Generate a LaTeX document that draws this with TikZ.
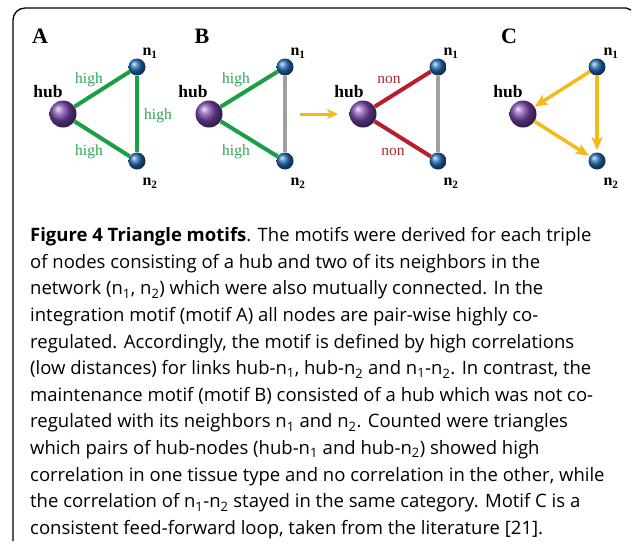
\documentclass[tikz,border=0pt]{standalone}
\usepackage{fontspec}
\setmainfont{Liberation Serif}
\newfontfamily\capfont{Open Sans}
\usetikzlibrary{arrows.meta}
\definecolor{hubcol}{RGB}{120,70,170}
\definecolor{ncol}{RGB}{30,105,175}
\definecolor{edgegreen}{RGB}{25,160,70}
\definecolor{txtgreen}{RGB}{45,165,85}
\definecolor{edgered}{RGB}{185,30,45}
\definecolor{txtred}{RGB}{175,40,50}
\definecolor{edgegray}{RGB}{160,160,160}
\definecolor{arrowor}{RGB}{245,185,25}
\tikzset{
  hubnode/.style={circle, inner sep=0pt, minimum size=27pt, ball color=hubcol},
  nnode/.style={circle, inner sep=0pt, minimum size=17pt, ball color=ncol},
  greenedge/.style={line width=4pt, draw=edgegreen},
  rededge/.style={line width=4pt, draw=edgered},
  grayedge/.style={line width=3.5pt, draw=edgegray},
  orarrow/.style={line width=3.5pt, draw=arrowor, -{Stealth[length=13pt,width=11pt,inset=3pt]}},
  elabel/.style={inner sep=0pt, font=\fontsize{15.5}{15.5}\selectfont},
  hublabel/.style={inner sep=0pt, font=\bfseries\fontsize{17.5}{17.5}\selectfont},
  nlabel/.style={inner sep=0pt, font=\bfseries\fontsize{16}{16}\selectfont},
  panel/.style={inner sep=0pt, font=\bfseries\fontsize{22}{22}\selectfont},
  capline/.style={anchor=base west, inner sep=0pt, font=\capfont\fontsize{18.5}{18.5}\selectfont},
}
\begin{document}
\begin{tikzpicture}[x=1pt, y=-1pt]
\useasboundingbox (0,0) rectangle (632,544);
\fill[white] (0,0) rectangle (632,544);
% frame
\draw[line width=1.3pt] (13,541) -- (13,20) arc[start angle=180, end angle=270, radius=12] -- (626,8) -- (631,10);

% ---------- Panel A ----------
\node[panel] (labA) at (40,36) {A};
\node[hubnode] (hA) at (63,114) {};
\node[nnode] (aA) at (137,67) {};
\node[nnode] (bA) at (137,161) {};
\draw[greenedge] (hA) -- (aA);
\draw[greenedge] (hA) -- (bA);
\draw[greenedge] (aA) -- (bA);
\node[hublabel] (thA) at (48,92) {hub};
\node[nlabel] (taA) at (150,53) {n\textsubscript{1}};
\node[nlabel] (tbA) at (150,183) {n\textsubscript{2}};
\node[elabel, text=txtgreen] (e1A) at (89,80) {high};
\node[elabel, text=txtgreen] (e2A) at (158,116) {high};
\node[elabel, text=txtgreen] (e3A) at (89,152) {high};

% ---------- Panel B ----------
\node[panel] (labB) at (202,36) {B};
\node[hubnode] (hB) at (209,114) {};
\node[nnode] (aB) at (285,67) {};
\node[nnode] (bB) at (285,161) {};
\draw[greenedge] (hB) -- (aB);
\draw[greenedge] (hB) -- (bB);
\draw[grayedge] (aB) -- (bB);
\node[hublabel] (thB) at (193,92) {hub};
\node[nlabel] (taB) at (298,53) {n\textsubscript{1}};
\node[nlabel] (tbB) at (298,183) {n\textsubscript{2}};
\node[elabel, text=txtgreen] (e1B) at (236,80) {high};
\node[elabel, text=txtgreen] (e3B) at (236,152) {high};

\coordinate (arS) at (300,114);
\coordinate (arE) at (338,114);
\draw[line width=3pt, draw=arrowor, -{Stealth[length=11pt,width=10pt,inset=3pt]}] (arS) -- (arE);

\node[hubnode] (hB2) at (363,114) {};
\node[nnode] (aB2) at (438,67) {};
\node[nnode] (bB2) at (438,161) {};
\draw[rededge] (hB2) -- (aB2);
\draw[rededge] (hB2) -- (bB2);
\draw[grayedge] (aB2) -- (bB2);
\node[hublabel] (thB2) at (349,92) {hub};
\node[nlabel] (taB2) at (451,53) {n\textsubscript{1}};
\node[nlabel] (tbB2) at (451,183) {n\textsubscript{2}};
\node[elabel, text=txtred] (e1B2) at (389,80) {non};
\node[elabel, text=txtred] (e3B2) at (393,152) {non};

% ---------- Panel C ----------
\node[panel] (labC) at (509,36) {C};
\node[hubnode] (hC) at (523,114) {};
\node[nnode] (aC) at (597,67) {};
\node[nnode] (bC) at (597,161) {};
\draw[orarrow] (aC) -- (hC);
\draw[orarrow, shorten >=2pt] (aC) -- (bC);
\draw[orarrow, shorten >=1pt] (hC) -- (bC);
\node[hublabel] (thC) at (508,92) {hub};
\node[nlabel] (taC) at (611,53) {n\textsubscript{1}};
\node[nlabel] (tbC) at (611,183) {n\textsubscript{2}};

% ---------- Caption ----------
\node[capline] (c1) at (30,241.7) {\textbf{Figure 4 Triangle motifs}. The motifs were derived for each triple};
\node[capline] (c2) at (30,268.3) {of nodes consisting of a hub and two of its neighbors in the};
\node[capline] (c3) at (30,294.9) {network (n\textsubscript{1}, n\textsubscript{2}) which were also mutually connected. In the};
\node[capline] (c4) at (30,321.5) {integration motif (motif A) all nodes are pair-wise highly co-};
\node[capline] (c5) at (30,348.1) {regulated. Accordingly, the motif is defined by high correlations};
\node[capline] (c6) at (30,374.7) {(low distances) for links hub-n\textsubscript{1}, hub-n\textsubscript{2} and n\textsubscript{1}-n\textsubscript{2}. In contrast, the};
\node[capline] (c7) at (30,401.3) {maintenance motif (motif B) consisted of a hub which was not co-};
\node[capline] (c8) at (30,427.9) {regulated with its neighbors n\textsubscript{1} and n\textsubscript{2}. Counted were triangles};
\node[capline] (c9) at (30,454.5) {which pairs of hub-nodes (hub-n\textsubscript{1} and hub-n\textsubscript{2}) showed high};
\node[capline] (c10) at (30,481.1) {correlation in one tissue type and no correlation in the other, while};
\node[capline] (c11) at (30,507.7) {the correlation of n\textsubscript{1}-n\textsubscript{2} stayed in the same category. Motif C is a};
\node[capline] (c12) at (30,534.3) {consistent feed-forward loop, taken from the literature [21].};
\end{tikzpicture}
\end{document}
